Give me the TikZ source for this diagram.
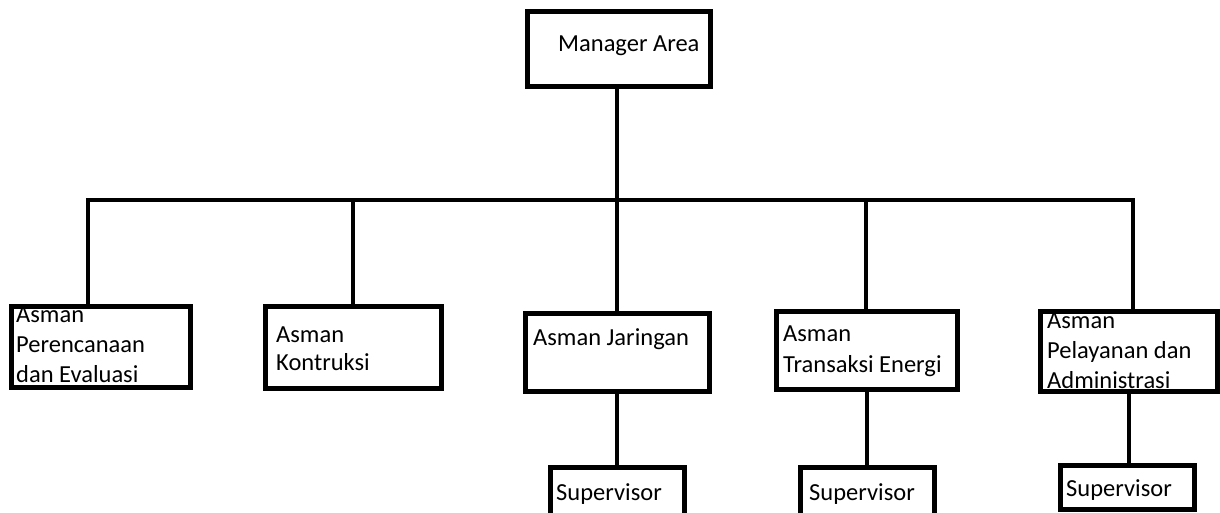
\documentclass[tikz,border=0pt]{standalone}
\usepackage{fontspec}
\setmainfont{Carlito}
\begin{document}
\begin{tikzpicture}[x=1pt,y=-1pt,
  box/.style={draw=black, line width=5pt, inner sep=0pt, rectangle},
  lbl/.style={anchor=base west, inner sep=0pt, font=\fontsize{24.5}{29}\selectfont},
  conn/.style={draw=black, line width=4.5pt}]
\useasboundingbox (0,0) rectangle (1220,513);
% boxes
\node[box, minimum width=183pt, minimum height=75pt] (m) at (618.5,49.5) {};
\node[box, minimum width=179pt, minimum height=81pt] (b1) at (100.5,346.5) {};
\node[box, minimum width=176pt, minimum height=82pt] (b2) at (353,347) {};
\node[box, minimum width=184pt, minimum height=78pt] (b3) at (617,352) {};
\node[box, minimum width=181pt, minimum height=78pt] (b4) at (866.5,350) {};
\node[box, minimum width=177pt, minimum height=80pt] (b5) at (1128.5,351) {};
\node[box, minimum width=134pt, minimum height=73pt] (s1) at (617,503.5) {};
\node[box, minimum width=134pt, minimum height=73pt] (s2) at (867,503.5) {};
\node[box, minimum width=134pt, minimum height=44pt] (s3) at (1127,487) {};
% bus coordinates
\coordinate (j0) at (617,200);
\coordinate (j1) at (88,200);
\coordinate (j2) at (353,200);
\coordinate (j3) at (617,200);
\coordinate (j4) at (866,200);
\coordinate (j5) at (1133,200);
\coordinate (k1) at (617,0);
\coordinate (k2) at (867,0);
\coordinate (k3) at (1129,0);
% connectors
\draw[conn] (j0 |- m.south) -- (j0);
\draw[conn] ([xshift=-2.25pt]j1) -- ([xshift=2.25pt]j5);
\draw[conn] (j1) -- (j1 |- b1.north);
\draw[conn] (j2) -- (j2 |- b2.north);
\draw[conn] (j3) -- (j3 |- b3.north);
\draw[conn] (j4) -- (j4 |- b4.north);
\draw[conn] (j5) -- (j5 |- b5.north);
\draw[conn] (k1 |- b3.south) -- (k1 |- s1.north);
\draw[conn] (k2 |- b4.south) -- (k2 |- s2.north);
\draw[conn] (k3 |- b5.south) -- (k3 |- s3.north);
% labels
\node[lbl] (tm) at (558,52) {Manager Area};
\node[lbl] (t1a) at (16,322) {Asman};
\node[lbl] (t1b) at (16,352) {Perencanaan};
\node[lbl] (t1c) at (16,382) {dan Evaluasi};
\node[lbl] (t2a) at (276,342) {Asman};
\node[lbl] (t2b) at (276,370) {Kontruksi};
\node[lbl] (t3a) at (533,345) {Asman Jaringan};
\node[lbl] (t4a) at (783,341) {Asman};
\node[lbl] (t4b) at (783,372) {Transaksi Energi};
\node[lbl] (t5a) at (1047,328) {Asman};
\node[lbl] (t5b) at (1047,358) {Pelayanan dan};
\node[lbl] (t5c) at (1047,388) {Administrasi};
\node[lbl] (ts1) at (556,500) {Supervisor};
\node[lbl] (ts2) at (809,500) {Supervisor};
\node[lbl] (ts3) at (1066,496) {Supervisor};
\end{tikzpicture}
\end{document}
